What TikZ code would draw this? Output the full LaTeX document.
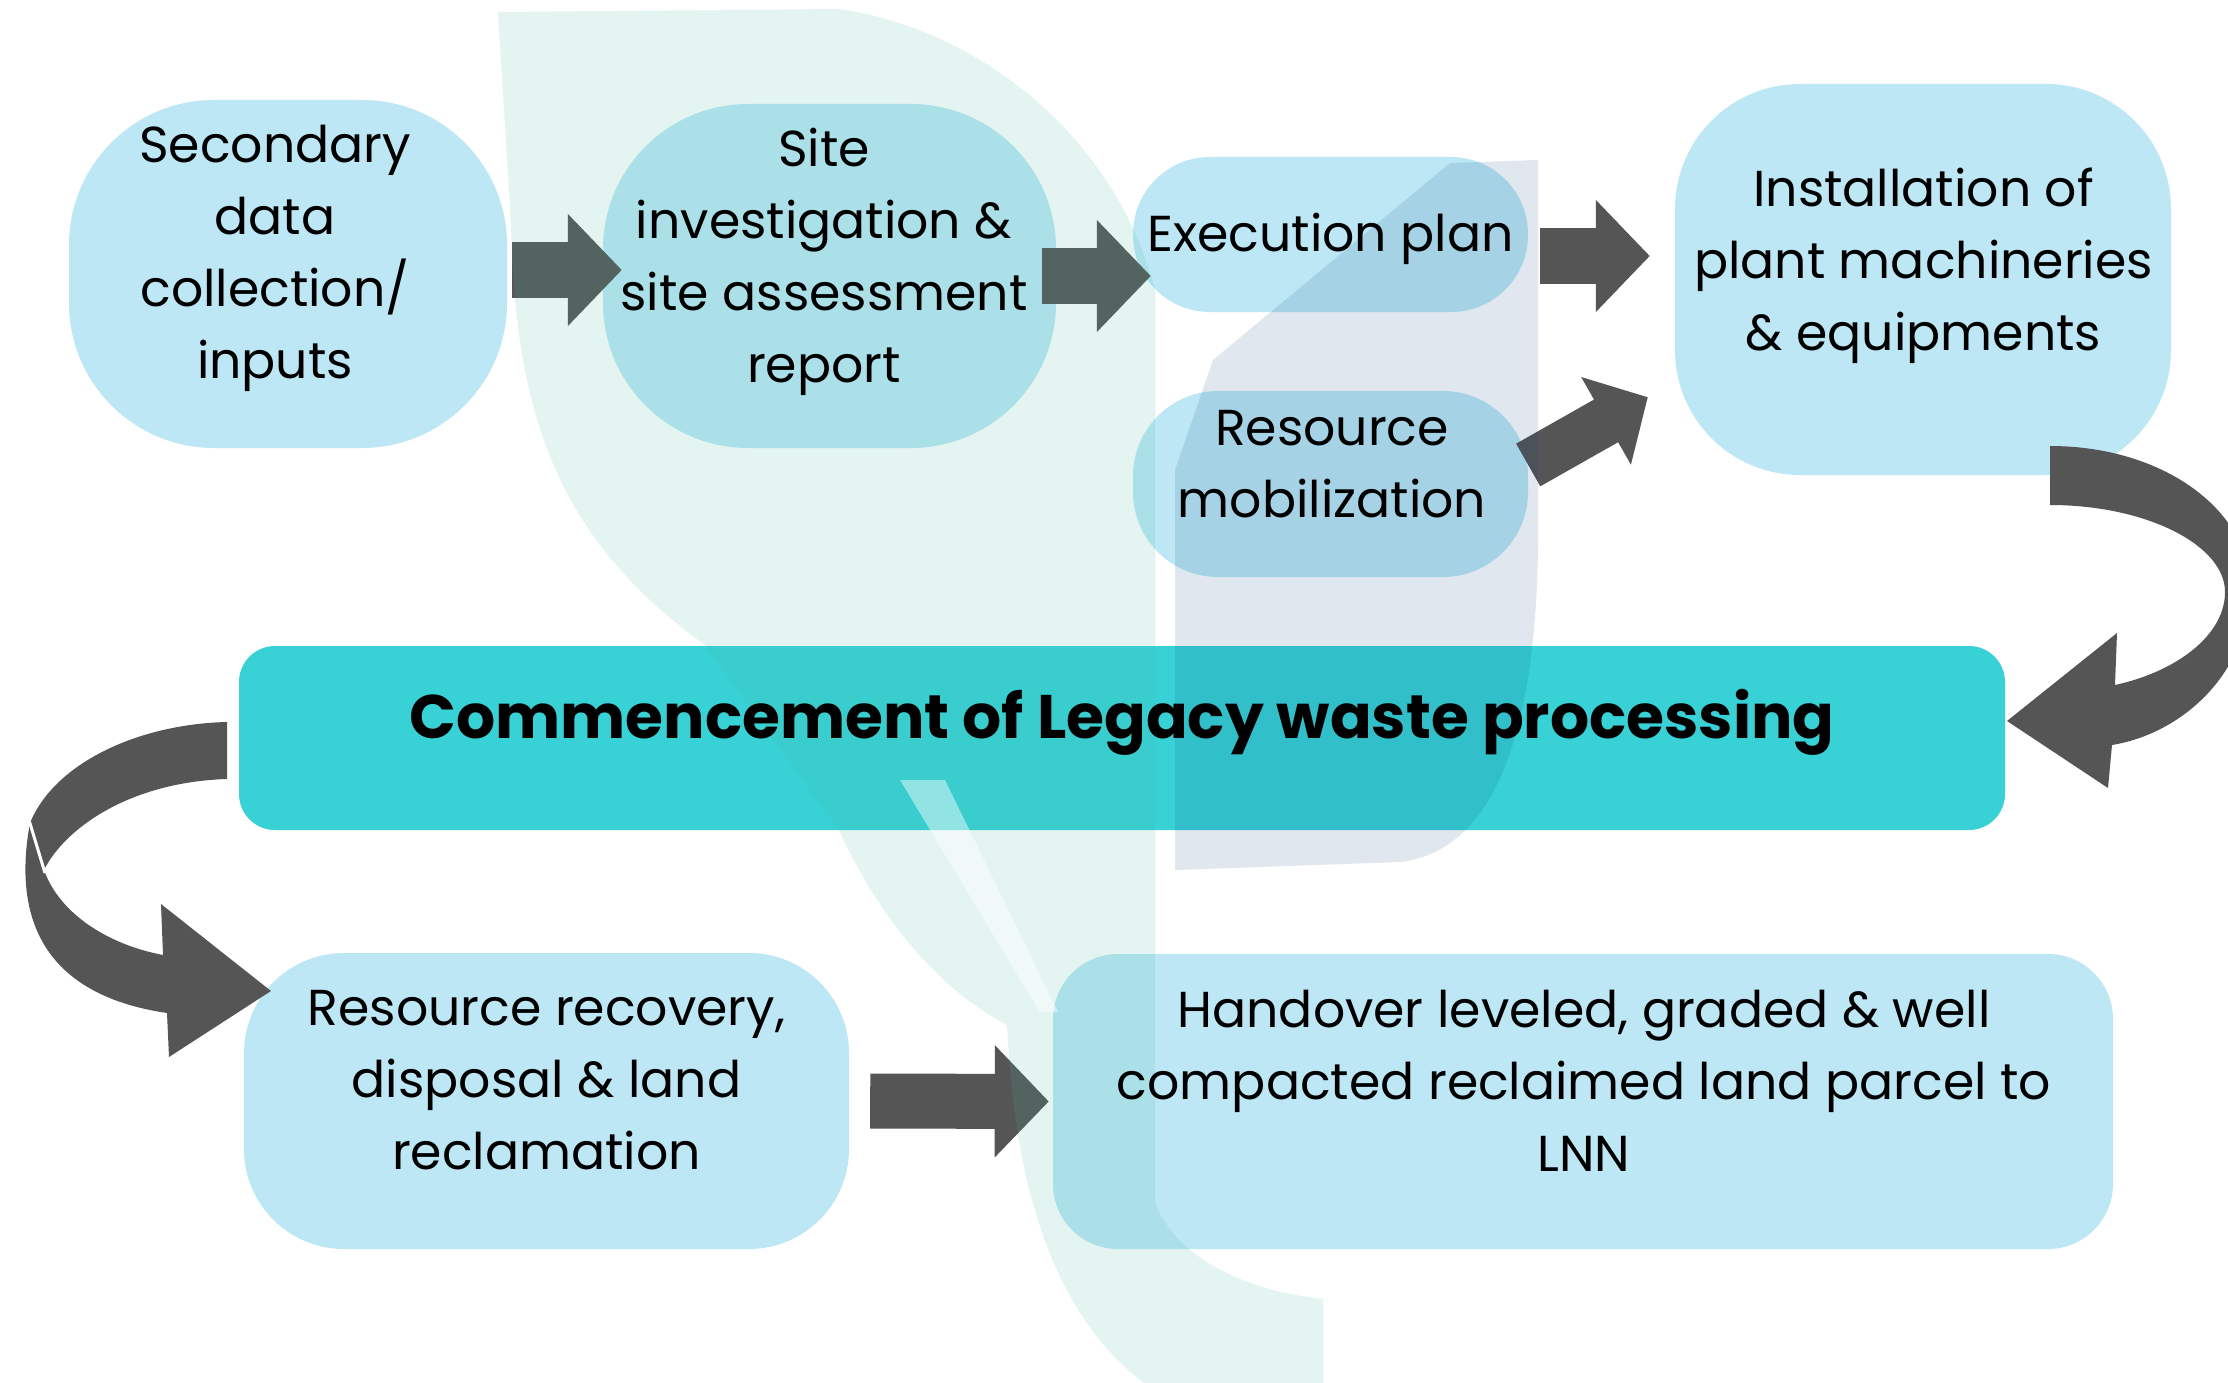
\documentclass[tikz,border=0pt]{standalone}
\usepackage{fontspec}
\setmainfont{Poppins}
\usetikzlibrary{calc,arrows.meta}
\definecolor{boxblue}{HTML}{BDE7F5}
\definecolor{bandteal}{HTML}{38D1D6}
\definecolor{arrowgrey}{HTML}{555555}
\definecolor{leafgreen}{RGB}{75,188,162}
\definecolor{leafslate}{RGB}{5,63,122}
\newcommand{\blockarrowtip}{-{Triangle[length=54pt,width=109pt]}}

\begin{document}
\begin{tikzpicture}[
    x=1pt, y=-1pt,
    pill/.style={fill=boxblue, inner sep=0pt},
    band/.style={fill=bandteal, inner sep=0pt, rounded corners=36pt},
    txt/.style={align=center, inner sep=0pt, font=\fontsize{50.5}{72}\selectfont},
    bigtxt/.style={inner sep=0pt, font=\fontsize{61.5}{72}\selectfont\bfseries},
    blk/.style={\blockarrowtip, draw=arrowgrey, line width=55pt},
    blkthin/.style={-{Triangle[length=48pt,width=98pt]}, draw=arrowgrey, line width=49pt}
]
  \fill[white] (0,0) rectangle (2228,1383);
  \useasboundingbox (0,0) rectangle (2228,1383);

  % boxes
  \node[pill, minimum width=438pt, minimum height=348pt, rounded corners=145pt] (datain) at (288,274) {};
  \node[pill, minimum width=453pt, minimum height=344pt, rounded corners=145pt] (siteinv) at (829.5,276) {};
  \node[pill, minimum width=395pt, minimum height=155pt, rounded corners=77pt] (execplan) at (1330.5,234.5) {};
  \node[pill, minimum width=395pt, minimum height=186pt, rounded corners=85pt] (resmob) at (1330.5,484) {};
  \node[pill, minimum width=496pt, minimum height=391pt, rounded corners=125pt] (install) at (1923,279.5) {};
  \node[band, minimum width=1766pt, minimum height=184pt] (commence) at (1122,738) {};
  \node[pill, minimum width=605pt, minimum height=296pt, rounded corners=100pt] (recovery) at (546.5,1101) {};
  \node[pill, minimum width=1060pt, minimum height=295pt, rounded corners=65pt] (handover) at (1583,1101.5) {};

  % straight arrows
  \draw[blk] ([xshift=5pt,yshift=4pt]datain.east) -- ([xshift=19pt,yshift=6pt]siteinv.west);
  \draw[blk] ([xshift=-14pt]siteinv.east) -- ([xshift=18pt,yshift=-41.5pt]execplan.west);
  \draw[blk] ([xshift=12pt,yshift=-21.5pt]execplan.east) -- ([xshift=-25pt,yshift=23.5pt]install.west);
  \draw[blkthin] ([yshift=19pt]resmob.east) -- ([xshift=-27pt,yshift=78pt]install.south west);
  \draw[blk] ([xshift=21pt]recovery.east) -- ([xshift=-4pt]handover.west);

  % curved arrows
  \fill[arrowgrey] (2050,446) -- (2050,505)
    .. controls (2146,505) and (2225,545) .. (2225,592)
    .. controls (2225,636) and (2175,672) .. (2115,685)
    -- (2117,633) -- (2007,721) -- (2108,788) -- (2112,745)
    .. controls (2185,733) and (2250,670) .. (2250,588)
    .. controls (2250,510) and (2163,446) .. (2050,446) -- cycle;
  \fill[arrowgrey] (227,722) .. controls (140,724) and (55,762) .. (30,823)
    .. controls (12,920) and (45,995) .. (167,1013)
    -- (169,1057) -- (271,991) -- (161,904) -- (163,955)
    .. controls (110,945) and (60,915) .. (44,870)
    .. controls (65,828) and (130,782) .. (227,779) -- cycle;
  \draw[white, line width=3pt] (29,820) -- (45,873);

  % faded logo behind
  \fill[leafgreen, opacity=.15] (498,12) -- (838,9)
    .. controls (960,25) and (1110,120) .. (1155,290) -- (1155,1203)
    .. controls (1175,1255) and (1240,1290) .. (1323,1299) -- (1323,1383) -- (1144,1383)
    .. controls (1060,1320) and (1015,1200) .. (1007,1025)
    .. controls (940,990) and (880,920) .. (839,830) -- (705,645)
    .. controls (560,540) and (515,420) .. (511,223) -- cycle;
  \fill[white, opacity=.45] (900,780) -- (945,780) -- (1058,1012) -- (1040,1012) -- cycle;
  \fill[leafslate, opacity=.12] (1175,870) -- (1175,470) -- (1213,360) -- (1450,163) -- (1538,160)
    -- (1538,545) .. controls (1536,720) and (1500,850) .. (1400,862) -- cycle;

  % texts
  \node[txt] (datain-txt) at (275,258.5) {Secondary\\data\\collection/\\inputs};
  \node[txt] (siteinv-txt) at (824,261.5) {Site\\investigation \&\\site assessment\\report};
  \node[txt] (execplan-txt) at (1330.5,238.5) {Execution plan};
  \node[txt] (resmob-txt) at (1332,464.5) {Resource\\mobilization};
  \node[txt] (install-txt) at (1923.5,265.5) {Installation of\\plant machineries\\\& equipments};
  \node[bigtxt] (commence-txt) at (1122,722) {Commencement of Legacy waste processing};
  \node[txt] (recovery-txt) at (546.5,1080.5) {Resource recovery,\\disposal \& land\\reclamation};
  \node[txt] (handover-txt) at (1584,1080.5) {Handover leveled, graded \& well\\compacted reclaimed land parcel to\\LNN};
\end{tikzpicture}
\end{document}
